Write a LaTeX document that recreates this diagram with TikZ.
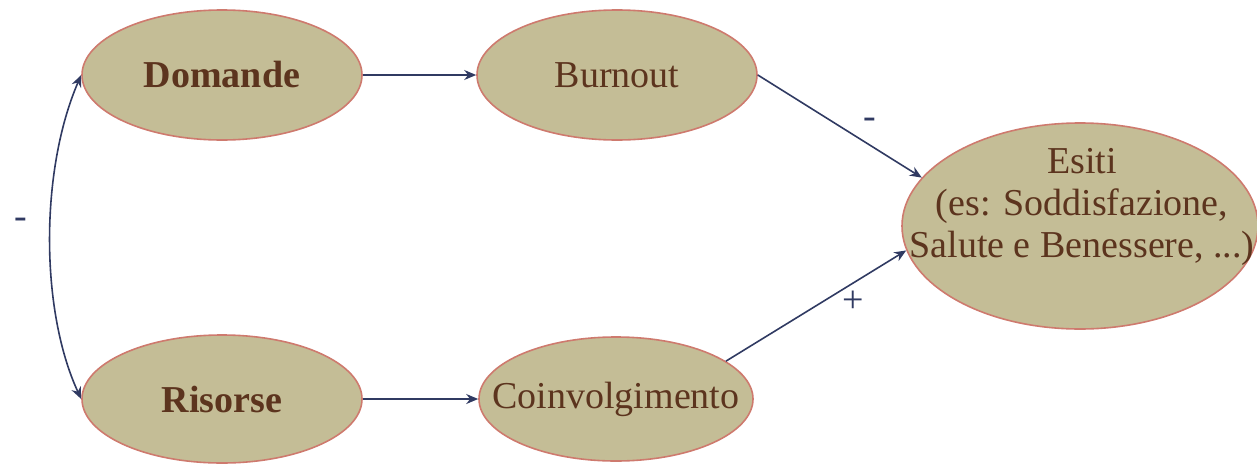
\documentclass[tikz,border=0pt]{standalone}
\usepackage{fontspec}
\setmainfont{Liberation Serif}
\usepackage{xcolor}
\usepackage{tikz}
\usetikzlibrary{shapes.geometric, arrows.meta, positioning}
\definecolor{ovalfill}{RGB}{196,189,150}
\definecolor{ovalborder}{RGB}{206,122,110}
\definecolor{testobrown}{RGB}{92,52,30}
\definecolor{frecciablu}{RGB}{48,58,98}

\begin{document}
\begin{tikzpicture}[x=0.5pt, y=-0.5pt,
    ovale/.style={ellipse, fill=ovalfill, draw=ovalborder, line width=0.8pt, inner sep=0pt},
    testo/.style={text=testobrown, font=\fontsize{19}{21}\selectfont, align=center, inner sep=0pt},
    grassetto/.style={testo, font=\fontsize{19}{21}\selectfont\bfseries},
    freccia/.style={frecciablu, line width=0.8pt, -{Stealth[length=6pt, width=5pt]}},
    doppia/.style={freccia, {Stealth[length=6pt, width=5pt]}-{Stealth[length=6pt, width=5pt]}},
    segno/.style={frecciablu, font=\fontsize{19}{21}\selectfont, inner sep=0pt}]
    \useasboundingbox (0,0) rectangle (1257,466);

    % The Ovals
    \node[ovale, minimum width=140pt, minimum height=65pt] (domande) at (222,75) {};
    \node[ovale, minimum width=140pt, minimum height=65pt] (burnout) at (617,75) {};
    \node[ovale, minimum width=140pt, minimum height=64pt] (risorse) at (222,399) {};
    \node[ovale, minimum width=137pt, minimum height=62pt] (coinvolgimento) at (616,399) {};
    \node[ovale, minimum width=178pt, minimum height=103pt] (esiti) at (1080,226) {};

    % The Texts
    \node[grassetto] (domandeT) at (domande) {Domande};
    \node[testo] (burnoutT) at (burnout) {Burnout};
    \node[grassetto] (risorseT) at (risorse) {Risorse};
    \node[testo] (coinvolgimentoT) at (coinvolgimento) {Coinvolgimento};
    \node[testo] (esitiT) at (1082,207) {Esiti\\ (es: Soddisfazione,\\ Salute e Benessere, ...)};

    % The Arrows
    \draw[freccia] (domande.east) -- (burnout.west);
    \draw[freccia] (risorse.east) -- (coinvolgimento.west);
    \draw[freccia] (burnout.east) -- (esiti.163);
    \draw[freccia] (coinvolgimento.19) -- (esiti.188);
    \draw[doppia] (domande.west) .. controls (40,170) and (40,310) .. (risorse.west);

    % Signs
    \node[segno] (menoA) at (870,123) {-};
    \node[segno] (piu) at (853,302) {+};
    \node[segno] (menoB) at (21,223) {-};
\end{tikzpicture}
\end{document}
